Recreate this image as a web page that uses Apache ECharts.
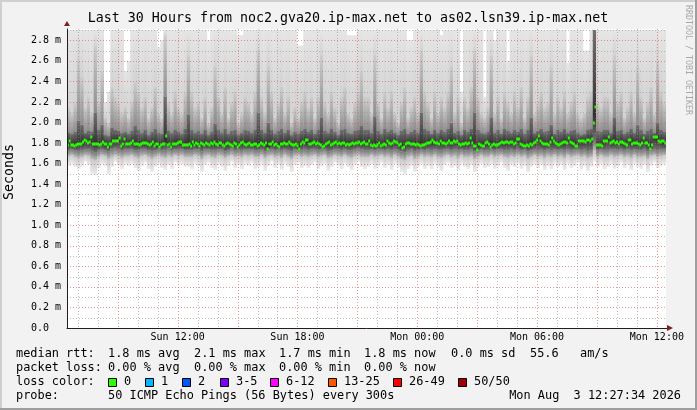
<!DOCTYPE html>
<html><head><meta charset="utf-8">
<script src="https://cdn.jsdelivr.net/npm/echarts@6/dist/echarts.min.js"></script>
<style>html,body{margin:0;padding:0;background:#f2f2f2}#c{width:697px;height:410px}</style>
</head><body><div id="c"></div>
<script>
// ---- time axis (hours since Sun 00:00) ----
const startHour = 6 + 27.5 / 60;       // Sun 06:27:34
const spanHours = 30;
const medianStep = 5 / 60;             // 300 s
const smokeStep = 10 / 60;
const yMax = 2.91;
const tickHours = [12, 18, 24, 30, 36];
const tickLabels = ['Sun 12:00', 'Sun 18:00', 'Mon 00:00', 'Mon 06:00', 'Mon 12:00'];
const gridHours = [7,8,9,10,11,12,13,14,15,16,17,18,19,20,21,22,23,24,25,26,27,28,29,30,31,32,33,34,35,36];
const gridMinorY = [0.1,0.3,0.5,0.7,0.9,1.1,1.3,1.5,1.7,1.9,2.1,2.3,2.5,2.7,2.9];
const gridMajorY = [0.2,0.4,0.6,0.8,1.0,1.2,1.4,1.6,1.8,2.0,2.2,2.4,2.6,2.8];

// ---- median rtt (ms), one per 5-minute step ----
const median = [
1.78,1.82,1.78,1.78,1.77,1.78,1.79,1.79,1.79,1.81,1.83,1.82,
1.80,1.81,1.86,1.79,1.79,1.79,1.79,1.78,1.79,1.81,1.79,1.79,
1.76,1.79,1.79,1.82,1.82,1.82,1.82,1.85,1.77,1.79,1.84,1.79,
1.79,1.79,1.80,1.82,1.79,1.79,1.79,1.78,1.79,1.80,1.80,1.80,
1.79,1.78,1.79,1.81,1.77,1.79,1.79,1.76,1.78,1.79,1.79,1.87,
1.78,1.79,1.76,1.79,1.79,1.79,1.80,1.81,1.81,1.78,1.78,1.78,
1.78,1.79,1.77,1.81,1.78,1.80,1.79,1.77,1.80,1.79,1.78,1.80,
1.79,1.78,1.80,1.79,1.81,1.79,1.78,1.80,1.80,1.78,1.77,1.79,
1.80,1.79,1.78,1.77,1.80,1.79,1.76,1.78,1.80,1.81,1.79,1.78,
1.79,1.80,1.78,1.78,1.79,1.79,1.77,1.78,1.80,1.79,1.78,1.80,
1.74,1.79,1.79,1.81,1.78,1.79,1.77,1.76,1.79,1.79,1.80,1.79,
1.79,1.81,1.79,1.78,1.78,1.79,1.77,1.74,1.79,1.81,1.80,1.83,
1.83,1.79,1.79,1.80,1.81,1.79,1.80,1.79,1.78,1.76,1.77,1.79,
1.80,1.81,1.78,1.79,1.80,1.81,1.79,1.80,1.79,1.80,1.80,1.78,
1.79,1.78,1.79,1.80,1.79,1.80,1.80,1.81,1.79,1.80,1.81,1.79,
1.79,1.82,1.78,1.77,1.78,1.77,1.78,1.80,1.77,1.78,1.79,1.78,
1.82,1.80,1.79,1.80,1.82,1.81,1.80,1.78,1.79,1.75,1.76,1.79,
1.80,1.80,1.79,1.79,1.79,1.78,1.79,1.78,1.77,1.78,1.78,1.79,
1.80,1.80,1.81,1.83,1.81,1.80,1.80,1.79,1.82,1.80,1.80,1.79,
1.80,1.82,1.80,1.80,1.82,1.81,1.82,1.79,1.78,1.79,1.79,1.80,
1.79,1.80,1.85,1.80,1.77,1.77,1.73,1.79,1.78,1.77,1.77,1.80,
1.81,1.79,1.76,1.78,1.79,1.78,1.78,1.79,1.80,1.81,1.80,1.81,
1.81,1.80,1.81,1.81,1.79,1.80,1.84,1.84,1.79,1.78,1.77,1.77,
1.78,1.77,1.79,1.78,1.80,1.81,1.83,1.87,1.82,1.80,1.79,1.79,
1.79,1.78,1.81,1.85,1.82,1.80,1.79,1.78,1.79,1.80,1.81,1.81,
1.80,1.85,1.81,1.80,1.79,1.77,1.77,1.82,1.82,1.82,1.82,1.81,
1.83,1.83,1.82,1.84,2.00,2.15,1.78,1.78,1.78,1.77,1.82,1.82,
1.82,1.86,1.80,1.81,1.82,1.80,1.81,1.79,1.81,1.81,1.80,1.79,
1.78,1.83,1.83,1.79,1.80,1.80,1.80,1.79,1.78,1.80,1.85,1.80,
1.80,1.78,1.74,1.78,1.86,1.86,1.86,1.82,1.81,1.82,1.82,1.80
];

// ---- smoke: ping distribution per 10-minute column (ms) ----
const pMin = [
1.58,1.60,1.57,1.55,1.58,1.62,1.59,1.50,1.49,1.56,1.60,1.58,1.50,1.57,1.62,1.58,1.55,1.60,
1.58,1.60,1.56,1.53,1.58,1.61,1.55,1.52,1.57,1.60,1.56,1.54,1.59,1.55,1.61,1.58,1.60,1.57,
1.57,1.55,1.60,1.58,1.52,1.59,1.61,1.56,1.54,1.60,1.57,1.53,1.58,1.62,1.56,1.59,1.55,1.60,
1.58,1.61,1.55,1.57,1.60,1.53,1.58,1.62,1.56,1.59,1.54,1.60,1.57,1.52,1.59,1.61,1.56,1.58,
1.56,1.59,1.61,1.55,1.58,1.60,1.53,1.57,1.61,1.58,1.55,1.60,1.57,1.54,1.59,1.62,1.57,1.55,
1.57,1.60,1.55,1.58,1.61,1.56,1.59,1.54,1.60,1.57,1.52,1.50,1.55,1.58,1.52,1.57,1.60,1.55,
1.58,1.55,1.60,1.57,1.53,1.59,1.61,1.56,1.58,1.54,1.60,1.57,1.55,1.59,1.52,1.57,1.60,1.56,
1.57,1.60,1.55,1.58,1.61,1.56,1.53,1.59,1.57,1.60,1.55,1.58,1.52,1.57,1.60,1.56,1.59,1.54,
1.58,1.55,1.60,1.57,1.59,1.54,1.60,1.56,1.58,1.61,1.55,1.58,1.53,1.57,1.62,1.57,1.60,1.55,
1.57,1.60,1.55,1.58,1.61,1.56,1.59,1.54,1.60,1.57,1.55,1.59,1.52,1.58,1.61,1.56,1.58,1.60
];
const p10 = [
1.67,1.68,1.66,1.65,1.66,1.68,1.67,1.64,1.63,1.66,1.68,1.67,1.64,1.66,1.68,1.67,1.65,1.67,
1.67,1.68,1.66,1.65,1.67,1.68,1.66,1.64,1.66,1.68,1.66,1.65,1.67,1.66,1.68,1.67,1.68,1.66,
1.66,1.66,1.68,1.67,1.64,1.67,1.68,1.66,1.65,1.68,1.67,1.65,1.67,1.68,1.66,1.67,1.66,1.68,
1.67,1.68,1.66,1.66,1.68,1.65,1.67,1.68,1.66,1.67,1.65,1.68,1.66,1.64,1.67,1.68,1.66,1.67,
1.66,1.67,1.68,1.66,1.67,1.68,1.65,1.66,1.68,1.67,1.66,1.68,1.66,1.65,1.67,1.68,1.66,1.66,
1.66,1.68,1.66,1.67,1.68,1.66,1.67,1.65,1.68,1.66,1.64,1.63,1.66,1.67,1.64,1.66,1.68,1.66,
1.67,1.66,1.68,1.66,1.65,1.67,1.68,1.66,1.67,1.65,1.68,1.66,1.66,1.67,1.64,1.66,1.68,1.66,
1.66,1.68,1.66,1.67,1.68,1.66,1.65,1.67,1.66,1.68,1.66,1.67,1.64,1.66,1.68,1.66,1.67,1.65,
1.67,1.66,1.68,1.66,1.67,1.65,1.68,1.66,1.67,1.68,1.66,1.67,1.65,1.66,1.72,1.66,1.68,1.66,
1.66,1.68,1.66,1.67,1.68,1.66,1.67,1.65,1.68,1.66,1.66,1.67,1.64,1.67,1.68,1.66,1.67,1.68
];
const p25 = [
1.73,1.74,1.73,1.72,1.73,1.74,1.74,1.72,1.71,1.73,1.74,1.73,1.72,1.74,1.75,1.74,1.73,1.74,
1.74,1.74,1.73,1.73,1.74,1.74,1.73,1.72,1.73,1.74,1.73,1.73,1.75,1.73,1.74,1.74,1.74,1.73,
1.73,1.73,1.74,1.74,1.72,1.74,1.74,1.73,1.73,1.74,1.74,1.72,1.73,1.75,1.73,1.74,1.73,1.74,
1.74,1.74,1.73,1.73,1.74,1.72,1.74,1.74,1.73,1.74,1.73,1.74,1.73,1.72,1.74,1.74,1.73,1.74,
1.73,1.74,1.74,1.73,1.74,1.74,1.72,1.73,1.74,1.74,1.73,1.74,1.73,1.73,1.74,1.75,1.74,1.73,
1.73,1.74,1.73,1.74,1.74,1.73,1.74,1.73,1.74,1.73,1.72,1.71,1.73,1.74,1.72,1.73,1.74,1.73,
1.74,1.73,1.74,1.73,1.73,1.74,1.74,1.73,1.74,1.73,1.74,1.73,1.73,1.74,1.72,1.73,1.74,1.73,
1.73,1.74,1.73,1.74,1.74,1.73,1.73,1.74,1.73,1.74,1.73,1.74,1.72,1.73,1.74,1.73,1.74,1.73,
1.74,1.73,1.74,1.73,1.74,1.73,1.74,1.73,1.74,1.74,1.73,1.74,1.72,1.73,1.82,1.73,1.74,1.73,
1.73,1.74,1.74,1.73,1.74,1.73,1.74,1.73,1.74,1.73,1.73,1.74,1.72,1.74,1.74,1.73,1.74,1.74
];
const p75 = [
1.90,1.89,1.91,2.02,1.98,1.90,1.92,1.91,2.10,1.93,1.98,1.88,1.87,1.95,1.93,1.92,1.90,1.91,
1.89,1.92,1.97,1.93,1.90,1.93,1.88,1.91,1.94,1.90,1.89,2.25,1.92,1.90,1.93,1.91,1.89,1.94,
2.08,1.93,1.90,1.92,1.89,1.93,1.88,1.91,1.99,1.93,1.90,1.94,1.89,1.92,1.93,1.88,1.90,1.93,
1.92,1.90,1.93,2.10,1.93,1.90,2.00,1.93,1.89,1.92,1.94,1.90,1.93,1.88,1.91,1.89,1.92,1.94,
1.91,1.93,1.89,1.93,2.05,1.92,1.90,1.94,1.91,1.88,1.93,1.94,1.90,1.89,1.92,1.93,1.97,1.93,
1.93,1.90,2.06,1.92,1.89,1.94,1.91,1.93,1.90,1.88,1.92,1.94,1.89,1.91,1.93,1.90,2.10,1.94,
1.92,1.89,1.93,1.90,1.93,1.91,1.94,2.00,1.90,1.92,1.88,1.93,1.91,1.94,2.10,1.93,1.90,1.89,
1.91,2.05,1.90,1.93,1.89,1.94,1.92,1.90,1.93,1.91,1.94,1.89,1.93,2.05,1.90,1.92,1.94,1.91,
1.92,1.98,1.89,1.93,1.91,1.94,1.90,1.92,1.93,1.90,1.88,1.89,1.93,1.94,2.90,1.92,1.91,1.93,
1.93,1.90,2.05,1.92,1.93,1.89,1.91,1.94,1.90,1.98,1.93,1.89,1.92,1.94,1.90,2.00,1.93,1.91
];
const p90 = [
2.15,2.10,2.20,2.60,2.45,2.15,2.25,2.10,2.75,2.20,2.50,2.05,2.00,2.35,2.25,2.20,2.10,2.15,
2.05,2.20,2.40,2.30,2.15,2.25,2.05,2.15,2.35,2.10,2.05,2.85,2.20,2.10,2.30,2.15,2.10,2.30,
2.65,2.30,2.15,2.20,2.05,2.25,2.00,2.15,2.55,2.25,2.10,2.35,2.05,2.20,2.30,2.00,2.10,2.25,
2.20,2.10,2.30,2.70,2.25,2.10,2.55,2.30,2.05,2.20,2.35,2.10,2.25,2.00,2.15,2.05,2.20,2.30,
2.15,2.25,2.05,2.25,2.65,2.20,2.10,2.30,2.15,2.00,2.25,2.35,2.10,2.05,2.20,2.30,2.50,2.25,
2.25,2.10,2.65,2.20,2.05,2.30,2.15,2.30,2.10,2.00,2.20,2.35,2.05,2.15,2.25,2.10,2.70,2.30,
2.20,2.05,2.30,2.10,2.25,2.15,2.30,2.55,2.10,2.25,2.00,2.25,2.15,2.35,2.70,2.25,2.10,2.05,
2.15,2.65,2.10,2.25,2.05,2.30,2.20,2.10,2.30,2.15,2.35,2.05,2.25,2.65,2.10,2.20,2.30,2.15,
2.20,2.55,2.10,2.25,2.15,2.30,2.10,2.20,2.30,2.10,2.05,2.10,2.25,2.30,2.90,2.20,2.15,2.25,
2.25,2.10,2.65,2.20,2.30,2.05,2.15,2.30,2.10,2.55,2.25,2.05,2.20,2.35,2.10,2.60,2.30,2.20
];
const pMax = [
2.90,2.90,2.90,2.90,2.90,2.90,2.90,2.90,2.90,2.90,2.90,2.20,2.30,2.90,2.90,2.90,2.90,2.50,
2.60,2.90,2.90,2.90,2.90,2.90,2.90,2.90,2.90,2.73,2.80,2.90,2.90,2.90,2.90,2.90,2.90,2.90,
2.90,2.90,2.90,2.90,2.90,2.90,2.80,2.90,2.90,2.90,2.90,2.90,2.90,2.90,2.90,2.85,2.85,2.90,
2.90,2.90,2.90,2.90,2.90,2.90,2.90,2.90,2.90,2.90,2.90,2.90,2.90,2.90,2.90,2.75,2.75,2.90,
2.90,2.90,2.90,2.90,2.90,2.90,2.90,2.90,2.90,2.90,2.90,2.90,2.85,2.85,2.85,2.90,2.90,2.90,
2.90,2.90,2.90,2.90,2.90,2.90,2.90,2.90,2.90,2.90,2.90,2.90,2.80,2.80,2.90,2.90,2.90,2.90,
2.90,2.90,2.90,2.90,2.85,2.90,2.90,2.90,2.90,2.90,2.30,2.90,2.90,2.90,2.90,2.90,2.90,2.25,
2.90,2.90,2.80,2.90,2.90,2.90,2.60,2.90,2.90,2.90,2.90,2.90,2.90,2.90,2.90,2.90,2.90,2.90,
2.90,2.90,2.90,2.90,2.90,2.90,2.58,2.90,2.90,2.90,2.90,2.70,2.70,2.90,2.90,2.90,2.90,2.90,
2.90,2.90,2.90,2.90,2.90,2.90,2.90,2.90,2.90,2.90,2.90,2.90,2.90,2.90,2.90,2.90,2.90,2.90
];

// ---- legend texts ----
const titleText = 'Last 30 Hours from noc2.gva20.ip-max.net to as02.lsn39.ip-max.net';
const lossLabels = ['0', '1', '2', '3-5', '6-12', '13-25', '26-49', '50/50'];
const lossColors = ['#26ff00', '#00b8ff', '#0059ff', '#7e00ff', '#ff00ff', '#ff5500', '#ff0000', '#a10000'];

const MONO = 'DejaVu Sans Mono';
const chart = echarts.init(document.getElementById('c'), null, {renderer: 'canvas'});

const smokeData = pMin.map((v, i) => [startHour + i * smokeStep, v, p10[i], p25[i],
  (median[2 * i] + median[2 * i + 1]) / 2, p75[i], p90[i], pMax[i]]);
const medianData = median.map((v, i) => [startHour + i * medianStep, v]);

const bandColors = [
  ['#ededed', '#cacaca'],
  ['#c4c4c4', '#747474'],
  ['#747474', '#303030'],
  ['#303030', '#707070'],
  ['#8c8c8c', '#cdcdcd'],
  ['#d2d2d2', '#e5e5e5']
];

function smokeItem(params, api) {
  const t = api.value(0);
  const x0 = api.coord([t, 0])[0];
  const x1 = api.coord([t + smokeStep, 0])[0];
  const ys = [];
  for (let k = 1; k <= 7; k++) ys.push(api.coord([t, Math.min(api.value(k), yMax)])[1]);
  const children = [];
  for (let b = 0; b < 6; b++) {
    const top = ys[b + 1], bot = ys[b];
    if (bot - top <= 0) continue;
    children.push({
      type: 'rect',
      shape: {x: x0, y: top, width: x1 - x0 + 0.4, height: bot - top + 0.3},
      style: {fill: new echarts.graphic.LinearGradient(0, 1, 0, 0, [
        {offset: 0, color: bandColors[b][0]}, {offset: 1, color: bandColors[b][1]}])}
    });
  }
  return {type: 'group', children};
}

function medianItem(params, api) {
  const t = api.value(0);
  const p0 = api.coord([t, api.value(1)]);
  const p1 = api.coord([t + medianStep, api.value(1)]);
  return {type: 'rect', shape: {x: p0[0], y: Math.round(p0[1]) - 1.5, width: p1[0] - p0[0] + 0.3, height: 3},
    style: {fill: '#26ff00'}};
}

function vGridItem(params, api) {
  const cs = params.coordSys;
  const x = Math.round(api.coord([api.value(0), 0])[0]) + 0.5;
  const major = api.value(1) === 1;
  return {type: 'line', shape: {x1: x, y1: cs.y, x2: x, y2: cs.y + cs.height},
    style: {stroke: major ? 'rgba(222,79,79,0.6)' : 'rgba(143,143,143,0.6)', lineWidth: 1, lineDash: [1, 2]}};
}
function hGridItem(params, api) {
  const cs = params.coordSys;
  const y = Math.round(api.coord([startHour, api.value(0)])[1]) + 0.5;
  const major = api.value(1) === 1;
  return {type: 'line', shape: {x1: cs.x, y1: y, x2: cs.x + cs.width, y2: y},
    style: {stroke: major ? 'rgba(222,79,79,0.6)' : 'rgba(143,143,143,0.6)', lineWidth: 1, lineDash: [1, 2]}};
}

const graphics = [];
// 3D border
graphics.push({type: 'rect', shape: {x: 0, y: 0, width: 697, height: 2}, style: {fill: '#cfcfcf'}, silent: true});
graphics.push({type: 'rect', shape: {x: 0, y: 0, width: 2, height: 410}, style: {fill: '#cfcfcf'}, silent: true});
graphics.push({type: 'rect', shape: {x: 0, y: 408, width: 697, height: 2}, style: {fill: '#9e9e9e'}, silent: true});
graphics.push({type: 'rect', shape: {x: 695, y: 0, width: 2, height: 410}, style: {fill: '#9e9e9e'}, silent: true});
// title
graphics.push({type: 'text', x: 348, y: 19, style: {text: titleText, font: '13.3px "' + MONO + '"', fill: '#000', align: 'center', verticalAlign: 'middle'}});
// vertical label
graphics.push({type: 'text', x: 10, y: 172, rotation: Math.PI / 2, style: {text: 'Seconds', font: '13.3px "' + MONO + '"', fill: '#000', align: 'center', verticalAlign: 'middle'}});
// watermark
graphics.push({type: 'text', x: 688, y: 5, rotation: -Math.PI / 2, style: {text: 'RRDTOOL / TOBI OETIKER', font: '8.3px "' + MONO + '"', fill: '#a8a8a8', align: 'left', verticalAlign: 'middle'}});

const legendPieces = [
  [16, 354, 'median rtt:'], [108, 354, '1.8 ms avg'], [194, 354, '2.1 ms max'], [279, 354, '1.7 ms min'],
  [364, 354, '1.8 ms now'], [451, 354, '0.0 ms sd'], [530, 354, '55.6'], [580, 354, 'am/s'],
  [16, 368, 'packet loss:'], [108, 368, '0.00 % avg'], [194, 368, '0.00 % max'], [279, 368, '0.00 % min'], [364, 368, '0.00 % now'],
  [16, 382, 'loss color:'],
  [16, 396, 'probe:'], [108, 396, '50 ICMP Echo Pings (56 Bytes) every 300s']
];
legendPieces.forEach(p => graphics.push({type: 'text', x: p[0], y: p[1],
  style: {text: p[2], font: '11.9px "' + MONO + '"', fill: '#000', align: 'left', verticalAlign: 'middle'}}));
graphics.push({type: 'text', x: 681, y: 396, style: {text: 'Mon Aug  3 12:27:34 2026', font: '11.9px "' + MONO + '"', fill: '#000', align: 'right', verticalAlign: 'middle'}});
const boxX = [108, 145, 182, 220, 270, 328, 393, 458];
lossLabels.forEach((lab, i) => {
  graphics.push({type: 'rect', shape: {x: boxX[i] + 0.5, y: 378.5, width: 8, height: 8}, style: {fill: lossColors[i], stroke: '#000', lineWidth: 1}});
  graphics.push({type: 'text', x: boxX[i] + 16, y: 382, style: {text: lab, font: '11.9px "' + MONO + '"', fill: '#000', align: 'left', verticalAlign: 'middle'}});
});

const option = {
  backgroundColor: '#f2f2f2',
  animation: false,
  grid: {left: 67, right: 31, top: 29, bottom: 82, show: true, backgroundColor: '#ffffff', borderWidth: 0},
  xAxis: {
    type: 'value', min: startHour, max: startHour + spanHours, z: 10,
    axisLine: {lineStyle: {color: '#1f1f1f', width: 1}},
    axisTick: {show: false}, splitLine: {show: false},
    axisLabel: {customValues: tickHours, formatter: v => tickLabels[tickHours.indexOf(Math.round(v))] || '',
      fontFamily: MONO, fontSize: 10, color: '#000', margin: 4}
  },
  yAxis: {
    type: 'value', min: 0, max: yMax, interval: 0.2, z: 10,
    axisLine: {show: true, lineStyle: {color: '#1f1f1f', width: 1}},
    axisTick: {show: false}, splitLine: {show: false},
    axisLabel: {formatter: v => v === 0 ? '0.0' : v.toFixed(1) + ' m', showMaxLabel: false,
      fontFamily: MONO, fontSize: 10, color: '#000', align: 'left', margin: 36}
  },
  series: [
    {type: 'custom', z: 1, clip: true, renderItem: smokeItem, data: smokeData, silent: true},
    {type: 'custom', z: 3, renderItem: vGridItem, data: gridHours.map(h => [h, h % 3 === 0 ? 1 : 0]), silent: true},
    {type: 'custom', z: 3, renderItem: hGridItem, data: gridMinorY.map(v => [v, 0]).concat(gridMajorY.map(v => [v, 1])), silent: true},
    {type: 'custom', z: 4, clip: true, renderItem: medianItem, data: medianData, silent: true}
  ],
  graphic: graphics
};
chart.setOption(option);

// axis arrows (dark red), placed from the axis extents
const br = chart.convertToPixel({gridIndex: 0}, [startHour + spanHours, 0]);
const tl = chart.convertToPixel({gridIndex: 0}, [startHour, yMax]);
chart.setOption({graphic: graphics.concat([
  {type: 'line', shape: {x1: br[0], y1: Math.round(br[1]) + 0.5, x2: br[0] + 2, y2: Math.round(br[1]) + 0.5}, style: {stroke: '#1f1f1f', lineWidth: 1}},
  {type: 'polygon', shape: {points: [[br[0] + 1, br[1] - 3], [br[0] + 7, br[1]], [br[0] + 1, br[1] + 3]]}, style: {fill: '#801f1f'}},
  {type: 'polygon', shape: {points: [[tl[0] - 3, tl[1] - 3], [tl[0], tl[1] - 8], [tl[0] + 3, tl[1] - 3]]}, style: {fill: '#801f1f'}}
])});
</script></body></html>
